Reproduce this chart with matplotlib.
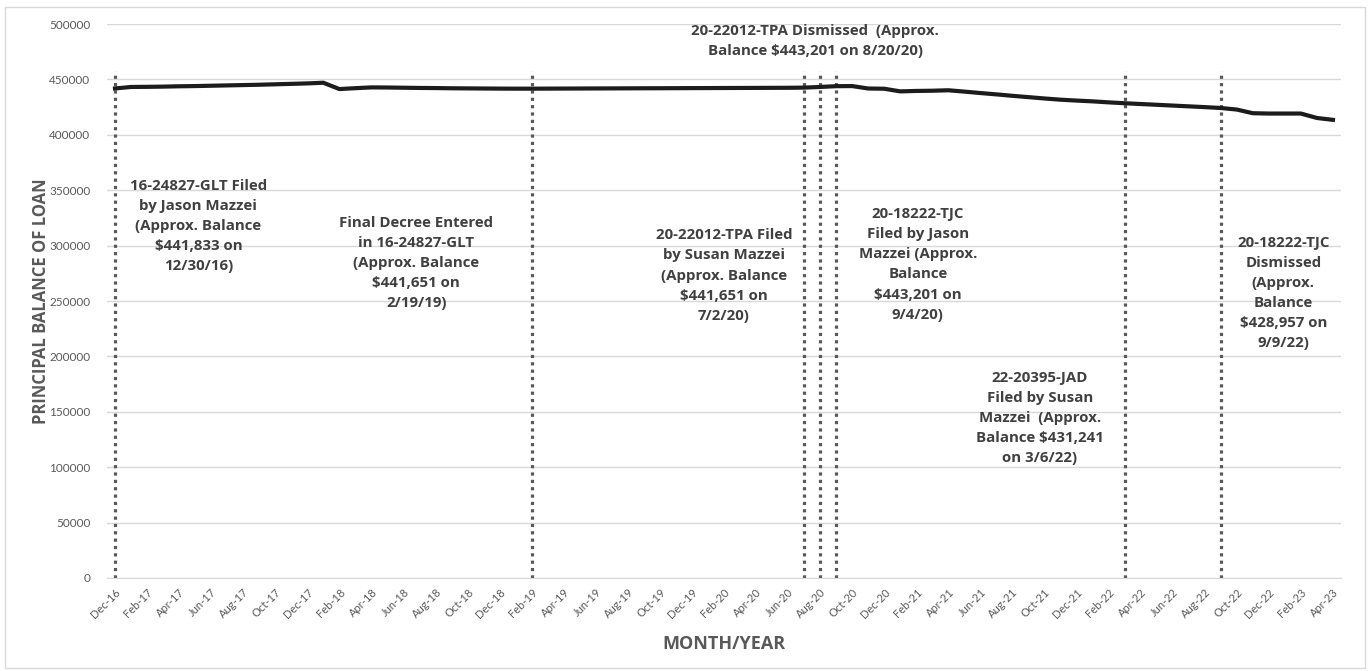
import pandas as pd
import numpy as np
import matplotlib
matplotlib.use("Agg")
import matplotlib.pyplot as plt
from matplotlib.patches import Rectangle

plt.rcParams['font.family'] = ['Lato', 'DejaVu Sans']
BOLD_FONT = ['Open Sans', 'DejaVu Sans']

# Month categories, Dec-16 .. Apr-23
months = pd.date_range("2016-12-01", "2023-04-01", freq="MS").strftime("%b-%y").tolist()

# Principal balance, one value per month
balance = [
    441833, 443200, 443300, 443500, 443800, 444000, 444300, 444600, 444900, 445200,
    445600, 446000, 446400, 447000, 441300, 442100, 442800, 442700, 442500, 442300,
    442200, 442000, 441900, 441800, 441700, 441650, 441651, 441700, 441750, 441800,
    441850, 441900, 441950, 442000, 442050, 442100, 442150, 442200, 442250, 442300,
    442350, 442400, 442450, 442600, 443201, 443900, 444000, 441800, 441600, 439200,
    439600, 439800, 440200, 439000, 437700, 436500, 435200, 434000, 432800, 431700,
    430900, 430200, 429300, 428500, 427800, 427100, 426400, 425700, 425000, 424200,
    422800, 419500, 419200, 419200, 419200, 415200, 413500,
]

# Court events marked with dotted lines
event_months = ["Dec-16", "Feb-19", "Jul-20", "Aug-20", "Sep-20", "Mar-22", "Sep-22"]

event_notes = [
    "16-24827-GLT Filed\nby Jason Mazzei\n(Approx. Balance\n$441,833 on\n12/30/16)",
    "Final Decree Entered\nin 16-24827-GLT\n(Approx. Balance\n$441,651 on\n2/19/19)",
    "20-22012-TPA Dismissed  (Approx.\nBalance $443,201 on 8/20/20)",
    "20-22012-TPA Filed\nby Susan Mazzei\n(Approx. Balance\n$441,651 on\n7/2/20)",
    "20-18222-TJC\nFiled by Jason\nMazzei (Approx.\nBalance\n$443,201 on\n9/4/20)",
    "22-20395-JAD\nFiled by Susan\nMazzei  (Approx.\nBalance $431,241\non 3/6/22)",
    "20-18222-TJC\nDismissed\n(Approx.\nBalance\n$428,957 on\n9/9/22)",
]
# where each note sits (category position, value)
note_pos = [(5.2, 317500), (18.8, 284000), (43.7, 484600), (38.0, 273000),
            (50.1, 283000), (57.7, 144500), (72.9, 257500)]

fig = plt.figure(figsize=(13.7, 6.71), dpi=100)
ax = fig.add_axes([0.0781, 0.1386, 0.9007, 0.8256])

x = np.arange(len(months))
ax.plot(x, balance, color="#1c1c1c", lw=3.0, solid_joinstyle="round", zorder=3)

for m in event_months:
    ax.vlines(months.index(m), 0, 457500, colors="#595959", lw=2.3,
              linestyles=(0, (1, 1.3)), zorder=2)

for txt, (tx, ty) in zip(event_notes, note_pos):
    ax.text(tx, ty, txt, ha="center", va="center", fontsize=10.8,
            fontweight="bold", family=BOLD_FONT, color="#404040",
            linespacing=1.55, zorder=4)

ax.set_xlim(-0.5, len(months) - 0.5)
ax.set_ylim(0, 500000)
ax.set_yticks(np.arange(0, 500001, 50000))
ax.set_xticks(x[::2])
ax.set_xticklabels(months[::2], rotation=45, ha="right", rotation_mode="anchor",
                   fontsize=8, color="#595959")
ax.tick_params(axis="y", labelsize=8.5, labelcolor="#595959", length=0, pad=12)
ax.tick_params(axis="x", length=0, pad=6)
ax.grid(axis="y", color="#d9d9d9", lw=1)
ax.set_axisbelow(True)
for s in ["top", "right", "left"]:
    ax.spines[s].set_visible(False)
ax.spines["bottom"].set_color("#d9d9d9")

ax.set_ylabel("PRINCIPAL BALANCE OF LOAN", fontsize=12, fontweight="bold",
              family=BOLD_FONT, color="#595959", labelpad=-1)
ax.set_xlabel("MONTH/YEAR", fontsize=13, fontweight="bold", family=BOLD_FONT,
              color="#595959", labelpad=11)

# chart-area border
fig.patches.append(Rectangle((0.004, 0.004), 0.992, 0.986, transform=fig.transFigure,
                             fill=False, edgecolor="#d9d9d9", lw=1))

fig.savefig("out.png", dpi=100)
